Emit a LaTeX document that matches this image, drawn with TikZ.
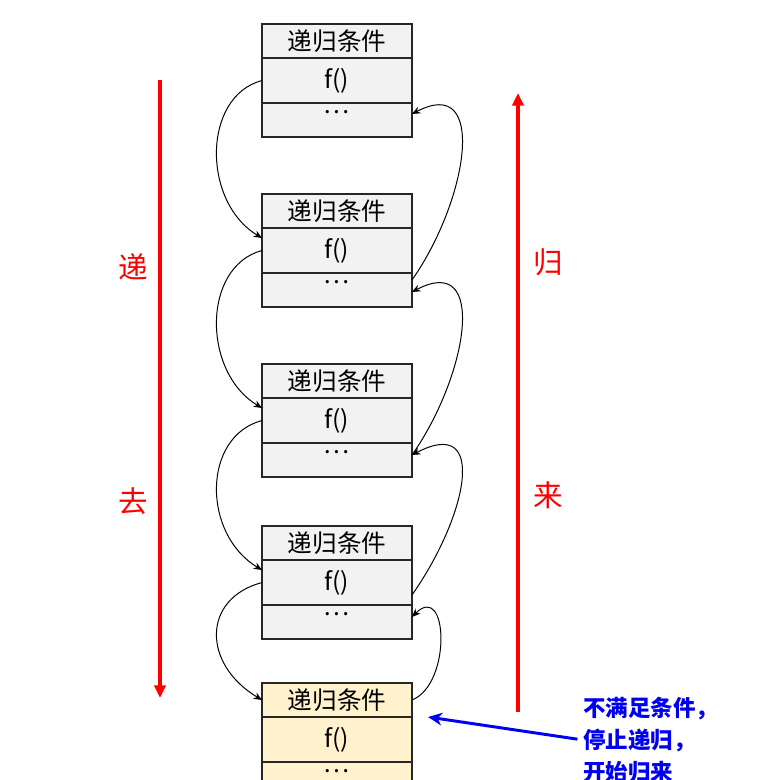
\documentclass[tikz,border=0pt]{standalone}
\usepackage{fontspec}
\setmainfont{Noto Sans CJK SC}
\usetikzlibrary{arrows.meta,calc,positioning}
\definecolor{boxgray}{HTML}{F2F2F2}
\definecolor{boxyellow}{HTML}{FFF2CC}
\definecolor{edgegray}{HTML}{262626}
\definecolor{noteblue}{HTML}{0000F0}

\begin{document}
\begin{tikzpicture}[
  row/.style={draw=edgegray,line width=1.4pt,minimum width=3.75cm,outer sep=0pt,inner sep=0pt},
  condrow/.style={row,minimum height=0.85cm,font=\fontsize{17.5pt}{19pt}\selectfont},
  callrow/.style={row,minimum height=1.125cm},
  restrow/.style={row,minimum height=0.85cm},
  rowtext/.style={inner sep=0pt,font=\fontsize{17.5pt}{19pt}\selectfont},
  link/.style={line width=0.7pt,-{Stealth[length=6pt,width=5pt]}},
  phase/.style={red,line width=2.2pt,-{Triangle[length=9pt,width=8pt]}},
  phaselbl/.style={red,font=\fontsize{21pt}{24pt}\selectfont},
  note/.style={text=noteblue,align=left,inner sep=0pt,font=\bfseries\fontsize{16pt}{22.7pt}\selectfont},
  stop/.style={noteblue,line width=2.1pt,-{Stealth[length=10pt,width=9pt]}}
]
\useasboundingbox (0,0) rectangle (19.225,-19.5);

% Stack frames
\foreach \i/\t/\c in {1/0.6/boxgray,2/4.85/boxgray,3/9.1/boxgray,4/13.15/boxgray,5/17.075/boxyellow}{
  \node[condrow,fill=\c,anchor=north] (cond\i) at (8.425,-\t) {递归条件};
  \node[callrow,fill=\c,below=0pt of cond\i,
        label={[rowtext,anchor=north,yshift=-0.25cm]north:f()}] (call\i) {};
  \node[restrow,fill=\c,below=0pt of call\i,
        label={[rowtext,anchor=center,yshift=-0.22cm]north:…}] (rest\i) {};
}

% Going down (left side)
\foreach \i/\j in {1/2,2/3,3/4}
  \draw[link] (call\i.west) .. controls +(-1.5,-0.4) and +(-1.5,0.9) .. ([yshift=-0.25cm]call\j.north west);
\draw[link] (call4.west) .. controls +(-1.5,-0.4) and +(-1.5,0.9) .. (cond5.west);

% Coming back (right side)
\foreach \i/\j/\s/\e in {1/2/-0.175/-0.275,2/3/-0.3/-0.475,3/4/0.25/-0.3}
  \draw[link] ([yshift=\s cm]rest\j.north east) .. controls +(1.4,2.0) and +(1.9,1.0) .. ([yshift=\e cm]rest\i.north east);
\draw[link] (cond5.east) .. controls +(1.0,0.4) and +(0.9,0.9) .. ([yshift=-0.3cm]rest4.north east);

% Phase arrows
\coordinate (goTop) at (4,-2);
\coordinate (goEnd) at (4,-17.45);
\draw[phase] (goTop) -- (goEnd);
\coordinate (backStart) at (12.95,-17.8);
\coordinate (backEnd) at (12.95,-2.325);
\draw[phase] (backStart) -- (backEnd);
\node[phaselbl] (di) at (3.325,-6.675) {递};
\node[phaselbl] (qu) at (3.325,-12.525) {去};
\node[phaselbl] (gui) at (13.7,-6.55) {归};
\node[phaselbl] (lai) at (13.7,-12.375) {来};

% Stop condition
\node[note,anchor=west] (note) at (14.575,-18.5) {不满足条件，\\停止递归，\\开始归来};
\coordinate (stopTip) at ([xshift=0.4cm]cond5.south east);
\draw[stop,shorten <=4pt] (note.west) -- (stopTip);
\end{tikzpicture}
\end{document}
